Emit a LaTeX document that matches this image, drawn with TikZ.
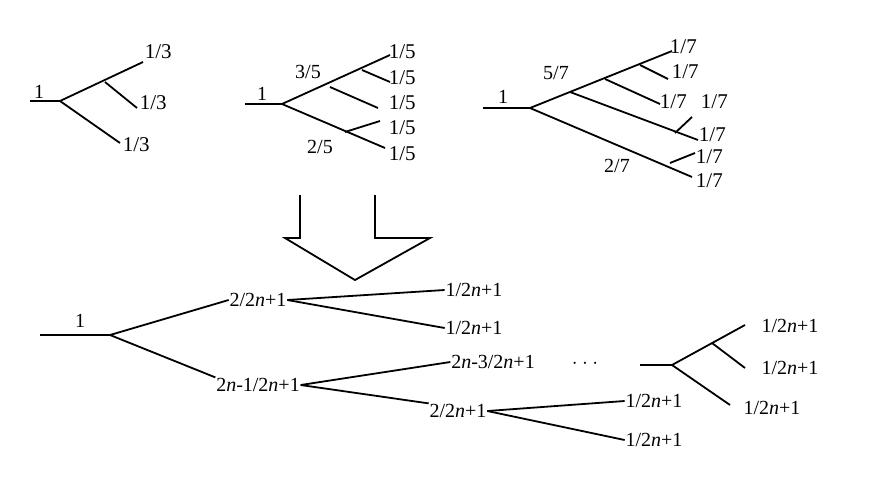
\documentclass[tikz,border=0pt]{standalone}
\usepackage{fontspec}
\setmainfont{Liberation Serif}
\usetikzlibrary{arrows.meta}

\begin{document}
\begin{tikzpicture}[x=1pt,y=-1pt,line width=1.8pt,
    lbl/.style={font=\fontsize{21}{21}\selectfont,inner sep=0pt,anchor=west},
    blbl/.style={font=\fontsize{20}{20}\selectfont,inner sep=0pt}]
        \useasboundingbox (0,0) rectangle (874,482);
        % tree for 3
        \draw (30,101) -- (60,101) -- (143,62);
        \draw (105,82) -- (137,108);
        \draw (60,101) -- (120,143);
        \node[blbl] (a0) at (39,92) {1};
        \node[lbl] (a1) at (144,52) {1/3};
        \node[lbl] (a2) at (139,103) {1/3};
        \node[lbl] (a3) at (122,145) {1/3};
        % tree for 5
        \draw (245,104) -- (282,104) -- (390,55);
        \draw (362,70) -- (390,82);
        \draw (330,87) -- (378,108);
        \draw (282,104) -- (385,148);
        \draw (345,132) -- (380,121);
        \node[blbl] (b0) at (262,94) {1};
        \node[blbl] (b1) at (308,72) {3/5};
        \node[blbl] (b2) at (320,147) {2/5};
        \foreach \y [count=\i] in {52,78,103,128,154}
            \node[lbl] (b\i) at (388,\y) {1/5};
        % tree for 7
        \draw (483,108) -- (530,108) -- (672,51);
        \draw (640,65) -- (668,79);
        \draw (605,79) -- (660,104);
        \draw (570,92) -- (698,140);
        \draw (675,133) -- (692,117);
        \draw (530,108) -- (692,177);
        \draw (670,163) -- (695,153);
        \node[blbl] (c0) at (503,97) {1};
        \node[blbl] (c1) at (556,73) {5/7};
        \node[blbl] (c2) at (617,166) {2/7};
        \node[lbl] (c3) at (669,47) {1/7};
        \node[lbl] (c4) at (671,72) {1/7};
        \node[lbl] (c5) at (659,102) {1/7};
        \node[lbl] (c6) at (700,102) {1/7};
        \node[lbl] (c7) at (698,135) {1/7};
        \node[lbl] (c8) at (695,157) {1/7};
        \node[lbl] (c9) at (695,181) {1/7};
        % hollow arrow
        \draw[line join=miter] (300,195) -- (300,238) -- (285,238) -- (355,280)
            -- (430,238) -- (375,238) -- (375,195);
        % general tree
        \node[blbl] (d0) at (80,321) {1};
        \node[blbl] (d1) at (258,300) {2/2\textit{n}+1};
        \node[blbl] (d2) at (258,385) {2\textit{n}-1/2\textit{n}+1};
        \node[blbl] (d3) at (474,290) {1/2\textit{n}+1};
        \node[blbl] (d4) at (474,328) {1/2\textit{n}+1};
        \node[blbl] (d5) at (493,362) {2\textit{n}-3/2\textit{n}+1};
        \node[blbl] (dd) at (585,364) {$\cdot\cdot\cdot$};
        \node[blbl] (d6) at (458,411) {2/2\textit{n}+1};
        \node[blbl] (d7) at (654,401) {1/2\textit{n}+1};
        \node[blbl] (d8) at (654,440) {1/2\textit{n}+1};
        \draw (40,335) -- (110,335) -- (d1.west);
        \draw (110,335) -- (d2.north west);
        \draw (d1.east) -- (d3.west);
        \draw (d1.east) -- (d4.west);
        \draw (d2.east) -- (d5.west);
        \draw (d2.east) -- (d6.north west);
        \draw (d6.east) -- (d7.west);
        \draw (d6.east) -- (d8.west);
        % last tree
        \draw (640,365) -- (672,365) -- (745,325);
        \draw (712,343) -- (745,368);
        \draw (672,365) -- (730,405);
        \node[blbl] (e1) at (790,326) {1/2\textit{n}+1};
        \node[blbl] (e2) at (790,368) {1/2\textit{n}+1};
        \node[blbl] (e3) at (772,408) {1/2\textit{n}+1};
    \end{tikzpicture}
\end{document}
